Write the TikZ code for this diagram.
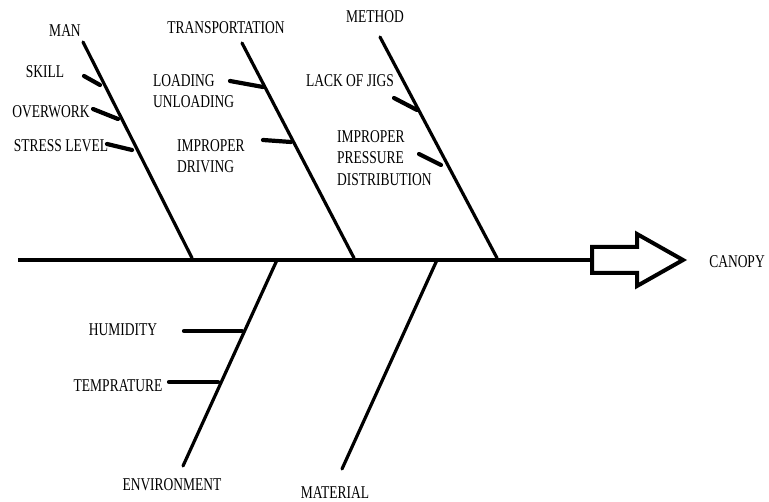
\documentclass[tikz,border=0pt]{standalone}
\usepackage{fontspec}
\setmainfont{Liberation Serif}
\begin{document}
\begin{tikzpicture}[x=1pt,y=-1pt,
  lbl/.style={font=\fontsize{18}{21.5}\selectfont, inner sep=0pt, xscale=0.75, align=left},
  bone/.style={line width=3.2pt, line cap=round},
  sub/.style={line width=4.2pt, line cap=round},
  spine/.style={line width=4pt}]
\useasboundingbox (0,0) rectangle (769,502);
% spine and head
\coordinate (s0) at (18,260);
\coordinate (s1) at (592,260);
\draw[spine] (s0) -- (s1);
\draw[line width=4pt, line join=miter] (592,247) -- (637,247) -- (637,234) -- (683,260) -- (637,286) -- (637,273) -- (592,273) -- cycle;
\node[lbl] (canopy) at (737,262) {CANOPY};
% MAN
\coordinate (manT) at (83,42); \coordinate (manB) at (192,258);
\draw[bone] (manT) -- (manB);
\node[lbl] (man) at (65,31) {MAN};
\coordinate (sk1) at (84,76); \coordinate (sk2) at (100,85);
\draw[sub] (sk1) -- (sk2);
\node[lbl] (skill) at (45,72) {SKILL};
\coordinate (ov1) at (93,109); \coordinate (ov2) at (118,119);
\draw[sub] (ov1) -- (ov2);
\node[lbl] (overwork) at (51,112) {OVERWORK};
\coordinate (st1) at (107,144); \coordinate (st2) at (132,150);
\draw[sub] (st1) -- (st2);
\node[lbl] (stress) at (61,146) {STRESS LEVEL};
% TRANSPORTATION
\coordinate (trT) at (242,43); \coordinate (trB) at (354,258);
\draw[bone] (trT) -- (trB);
\node[lbl] (trans) at (226,28) {TRANSPORTATION};
\coordinate (lo1) at (230,81); \coordinate (lo2) at (263,87);
\draw[sub] (lo1) -- (lo2);
\node[lbl, anchor=west] (load) at (153,91) {LOADING\\UNLOADING};
\coordinate (dr1) at (263,140); \coordinate (dr2) at (291,142);
\draw[sub] (dr1) -- (dr2);
\node[lbl, anchor=west] (drive) at (177,156) {IMPROPER\\DRIVING};
% METHOD
\coordinate (meT) at (380,37); \coordinate (meB) at (497,258);
\draw[bone] (meT) -- (meB);
\node[lbl] (method) at (375,17) {METHOD};
\coordinate (ja1) at (394,98); \coordinate (ja2) at (417,110);
\draw[sub] (ja1) -- (ja2);
\node[lbl] (jigs) at (350,81) {LACK OF JIGS};
\coordinate (pr1) at (419,154); \coordinate (pr2) at (441,165);
\draw[sub] (pr1) -- (pr2);
\node[lbl, anchor=west] (press) at (337,158) {IMPROPER\\PRESSURE\\DISTRIBUTION};
% ENVIRONMENT
\coordinate (enT) at (277,260); \coordinate (enB) at (183,466);
\draw[bone] (enT) -- (enB);
\node[lbl] (env) at (172,485) {ENVIRONMENT};
\coordinate (hu1) at (184,331); \coordinate (hu2) at (242,331);
\draw[sub] (hu1) -- (hu2);
\node[lbl] (hum) at (123,330) {HUMIDITY};
\coordinate (te1) at (169,382); \coordinate (te2) at (218,382);
\draw[sub] (te1) -- (te2);
\node[lbl] (temp) at (118,386) {TEMPRATURE};
% MATERIAL
\coordinate (maT) at (437,260); \coordinate (maB) at (342,469);
\draw[bone] (maT) -- (maB);
\node[lbl] (mat) at (335,493) {MATERIAL};
\end{tikzpicture}
\end{document}
